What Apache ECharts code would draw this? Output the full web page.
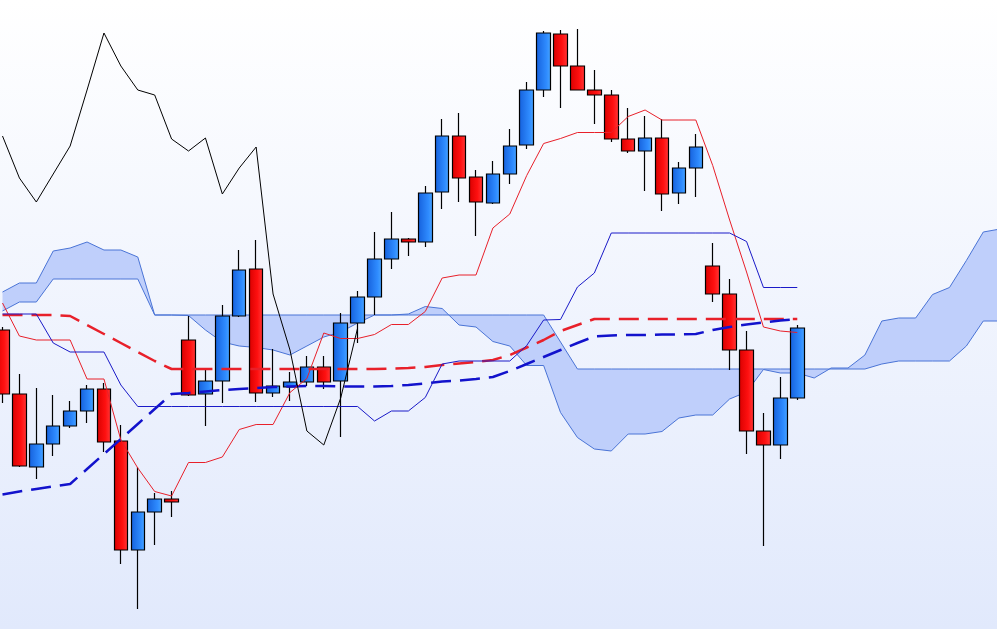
<!DOCTYPE html>
<html>
<head>
<meta charset="utf-8">
<style>
html,body{margin:0;padding:0;background:#fff;}
#chart{width:997px;height:629px;}
</style>
<script src="https://cdn.jsdelivr.net/npm/echarts@6/dist/echarts.min.js"></script>
</head>
<body>
<div id="chart"></div>
<script>
// ---- data ----
// candles: [open, close, low, high]
var candles = [
  [37.0,30.6,29.7,37.3],[30.6,23.4,23.3,32.6],[23.3,25.6,22.1,31.2],[25.6,27.4,24.4,30.5],
  [27.4,28.9,27.2,29.9],[28.9,31.1,27.7,31.5],[31.1,25.8,24.8,31.7],[25.9,15.0,13.6,27.5],
  [15.0,18.8,9.1,23.3],[18.8,20.1,15.5,20.7],[20.1,19.8,18.3,20.9],[36.0,30.5,30.4,38.4],
  [30.6,31.9,27.4,33.2],[31.9,38.4,29.7,39.5],[38.4,43.0,38.3,45.0],[43.1,30.7,29.8,46.0],
  [30.7,31.4,30.3,35.1],[31.3,31.8,29.9,32.8],[31.8,33.3,31.4,34.4],[33.3,31.8,31.1,34.4],
  [31.9,37.7,26.3,38.7],[37.7,40.3,35.7,40.9],[40.3,44.1,38.5,46.8],[44.1,46.1,43.1,48.8],
  [46.1,45.8,44.4,46.2],[45.8,50.7,45.3,51.4],[50.8,56.4,49.1,58.1],[56.4,52.2,49.8,58.7],
  [52.3,49.8,46.4,53.0],[49.7,52.6,49.6,53.9],[52.6,55.4,51.6,57.1],[55.5,61.0,55.1,61.8],
  [61.0,66.7,60.3,66.9],[66.6,63.4,59.2,67.0],[63.4,61.0,61.0,67.1],[61.0,60.5,57.6,63.0],
  [60.5,56.1,55.8,61.0],[56.1,54.9,54.7,59.2],[54.9,56.2,50.9,58.4],[56.2,50.6,48.9,58.1],
  [50.7,53.2,49.6,53.8],[53.2,55.3,50.3,56.6],[43.4,40.6,39.8,45.7],[40.6,35.0,33.0,42.1],
  [35.0,26.9,24.6,36.9],[26.9,25.5,15.4,28.7],[25.5,30.2,24.1,32.3],[30.2,37.2,30.0,37.5]
];
var tenkan = [39.7,36.4,36.0,36.0,36.0,32.1,32.1,26.0,23.2,20.85,20.4,23.75,23.75,24.3,27.05,27.55,
  27.55,30.75,32.15,36.7,36.15,36.15,36.55,37.55,37.55,38.85,42.2,42.5,42.5,47.2,48.6,52.45,
  55.65,56.15,56.75,56.75,56.75,58.35,59.0,58.0,58.0,58.0,53.45,48.0,42.8,37.3,36.9,36.75];
var kijun = [38.6,38.6,38.6,35.7,34.8,34.8,34.8,31.5,29.35,29.35,29.35,29.35,29.35,29.35,29.35,29.35,
  29.35,29.35,29.35,29.35,29.35,29.35,27.9,28.9,28.9,30.25,33.6,33.9,33.9,33.9,33.9,35.45,
  38.0,38.05,41.3,42.7,46.7,46.7,46.7,46.7,46.7,46.7,46.7,46.7,45.85,41.25,41.25,41.25];
var dashRed = [38.5,38.5,38.5,38.5,38.4,37.5,36.6,35.7,34.8,33.9,33.1,33.1,33.1,33.1,33.1,33.1,
  33.1,33.1,33.1,33.1,33.1,33.1,33.1,33.15,33.2,33.3,33.5,33.65,33.8,34.0,34.5,35.25,
  36.0,36.9,37.5,38.1,38.1,38.1,38.1,38.1,38.1,38.1,38.1,38.1,38.1,38.1,38.1,38.1];
var dashBlue = [20.55,20.85,21.1,21.35,21.6,23.1,24.6,26.1,27.6,29.1,30.6,30.7,30.85,31.0,31.1,31.2,
  31.3,31.35,31.4,31.4,31.35,31.35,31.35,31.4,31.5,31.65,31.85,31.95,32.1,32.3,32.9,33.6,
  34.3,35.0,35.7,36.35,36.45,36.5,36.5,36.55,36.55,36.6,37.0,37.3,37.55,37.75,37.95,38.1];
var spanA = [40.8,41.7,41.7,44.9,45.2,45.8,45.0,45.0,44.3,38.5,38.5,38.45,37.0,35.8,35.4,35.25,
  35.0,34.5,35.4,36.3,36.8,37.7,38.5,38.5,38.6,39.35,39.15,37.5,37.3,35.85,35.4,33.45,
  33.45,28.75,26.25,25.1,24.9,26.6,26.6,26.85,28.2,28.5,28.5,30.1,30.8,33.05,32.7,32.7,
  32.2,33.2,33.2,34.5,37.9,38.2,38.2,40.55,41.25,43.95,46.8,47.1];
var spanB = [38.9,39.8,39.8,42.1,42.1,42.1,42.1,42.1,42.1,38.5,38.5,38.5,38.5,38.5,38.5,38.5,
  38.5,38.5,38.5,38.5,38.5,38.5,38.5,38.5,38.5,38.5,38.5,38.5,38.5,38.5,38.5,38.5,
  38.5,35.8,33.1,33.1,33.1,33.1,33.1,33.1,33.1,33.1,33.1,33.1,33.1,33.1,33.1,33.1,
  33.1,33.1,33.1,33.1,33.6,33.9,33.9,33.9,33.9,35.4,37.9,37.9];
var lagShift = 26; // chikou = close drawn 26 periods back
var categories = [];
for (var k = 0; k < spanA.length; k++) categories.push('P' + (k + 1));

// ---- derived ----
var closes = candles.map(function (c) { return c[1]; });
var chikou = closes.slice(lagShift);

var chart = echarts.init(document.getElementById('chart'), null, {renderer: 'canvas'});

var blueGrad = new echarts.graphic.LinearGradient(0, 0, 1, 0, [
  {offset: 0, color: '#1560dc'}, {offset: 0.7, color: '#2f8cff'}, {offset: 1, color: '#4aa6ff'}]);
var redGrad = new echarts.graphic.LinearGradient(0, 0, 1, 0, [
  {offset: 0, color: '#d80000'}, {offset: 0.6, color: '#ff1010'}, {offset: 1, color: '#ff3a3a'}]);

function lineSeries(data, color, width, type, z) {
  return {
    type: 'line', data: data, symbol: 'none', silent: true, clip: false,
    lineStyle: {color: color, width: width, type: type}, z: z, animation: false
  };
}

var option = {
  animation: false,
  backgroundColor: new echarts.graphic.LinearGradient(0, 0, 0, 1, [
    {offset: 0, color: '#ffffff'}, {offset: 1, color: '#e1e9fc'}]),
  grid: {left: 2.5, top: 0, width: 997.7, height: 629, containLabel: false, outerBoundsMode: 'none'},
  xAxis: {type: 'category', data: categories, boundaryGap: false, show: false},
  yAxis: {type: 'value', min: 7.1, max: 70, show: false, splitLine: {show: false}},
  series: [
    {
      type: 'custom', z: 1, silent: true, data: [[0, spanA[0]]],
      renderItem: function (params, api) {
        var pts = [];
        for (var i = 0; i < spanA.length; i++) pts.push(api.coord([i, spanA[i]]));
        for (var j = spanB.length - 1; j >= 0; j--) pts.push(api.coord([j, spanB[j]]));
        return {type: 'polygon', shape: {points: pts}, style: {fill: '#bfcffb'}};
      }
    },
    lineSeries(spanA, '#4a74d6', 1, 'solid', 2),
    lineSeries(spanB, '#4a74d6', 1, 'solid', 2),
    {
      type: 'candlestick', data: candles, barWidth: 14, clip: false, z: 3, silent: true,
      itemStyle: {
        color: blueGrad, color0: redGrad,
        borderColor: '#000000', borderColor0: '#000000', borderWidth: 1.2
      }
    },
    lineSeries(dashRed, '#e8202a', 2.5, [20, 9], 4),
    lineSeries(dashBlue, '#1212cc', 2.5, [20, 9], 4),
    lineSeries(tenkan, '#e8202a', 1, 'solid', 5),
    lineSeries(kijun, '#1a1ac8', 1, 'solid', 5),
    lineSeries(chikou, '#000000', 1, 'solid', 5)
  ]
};
chart.setOption(option);
</script>
</body>
</html>
